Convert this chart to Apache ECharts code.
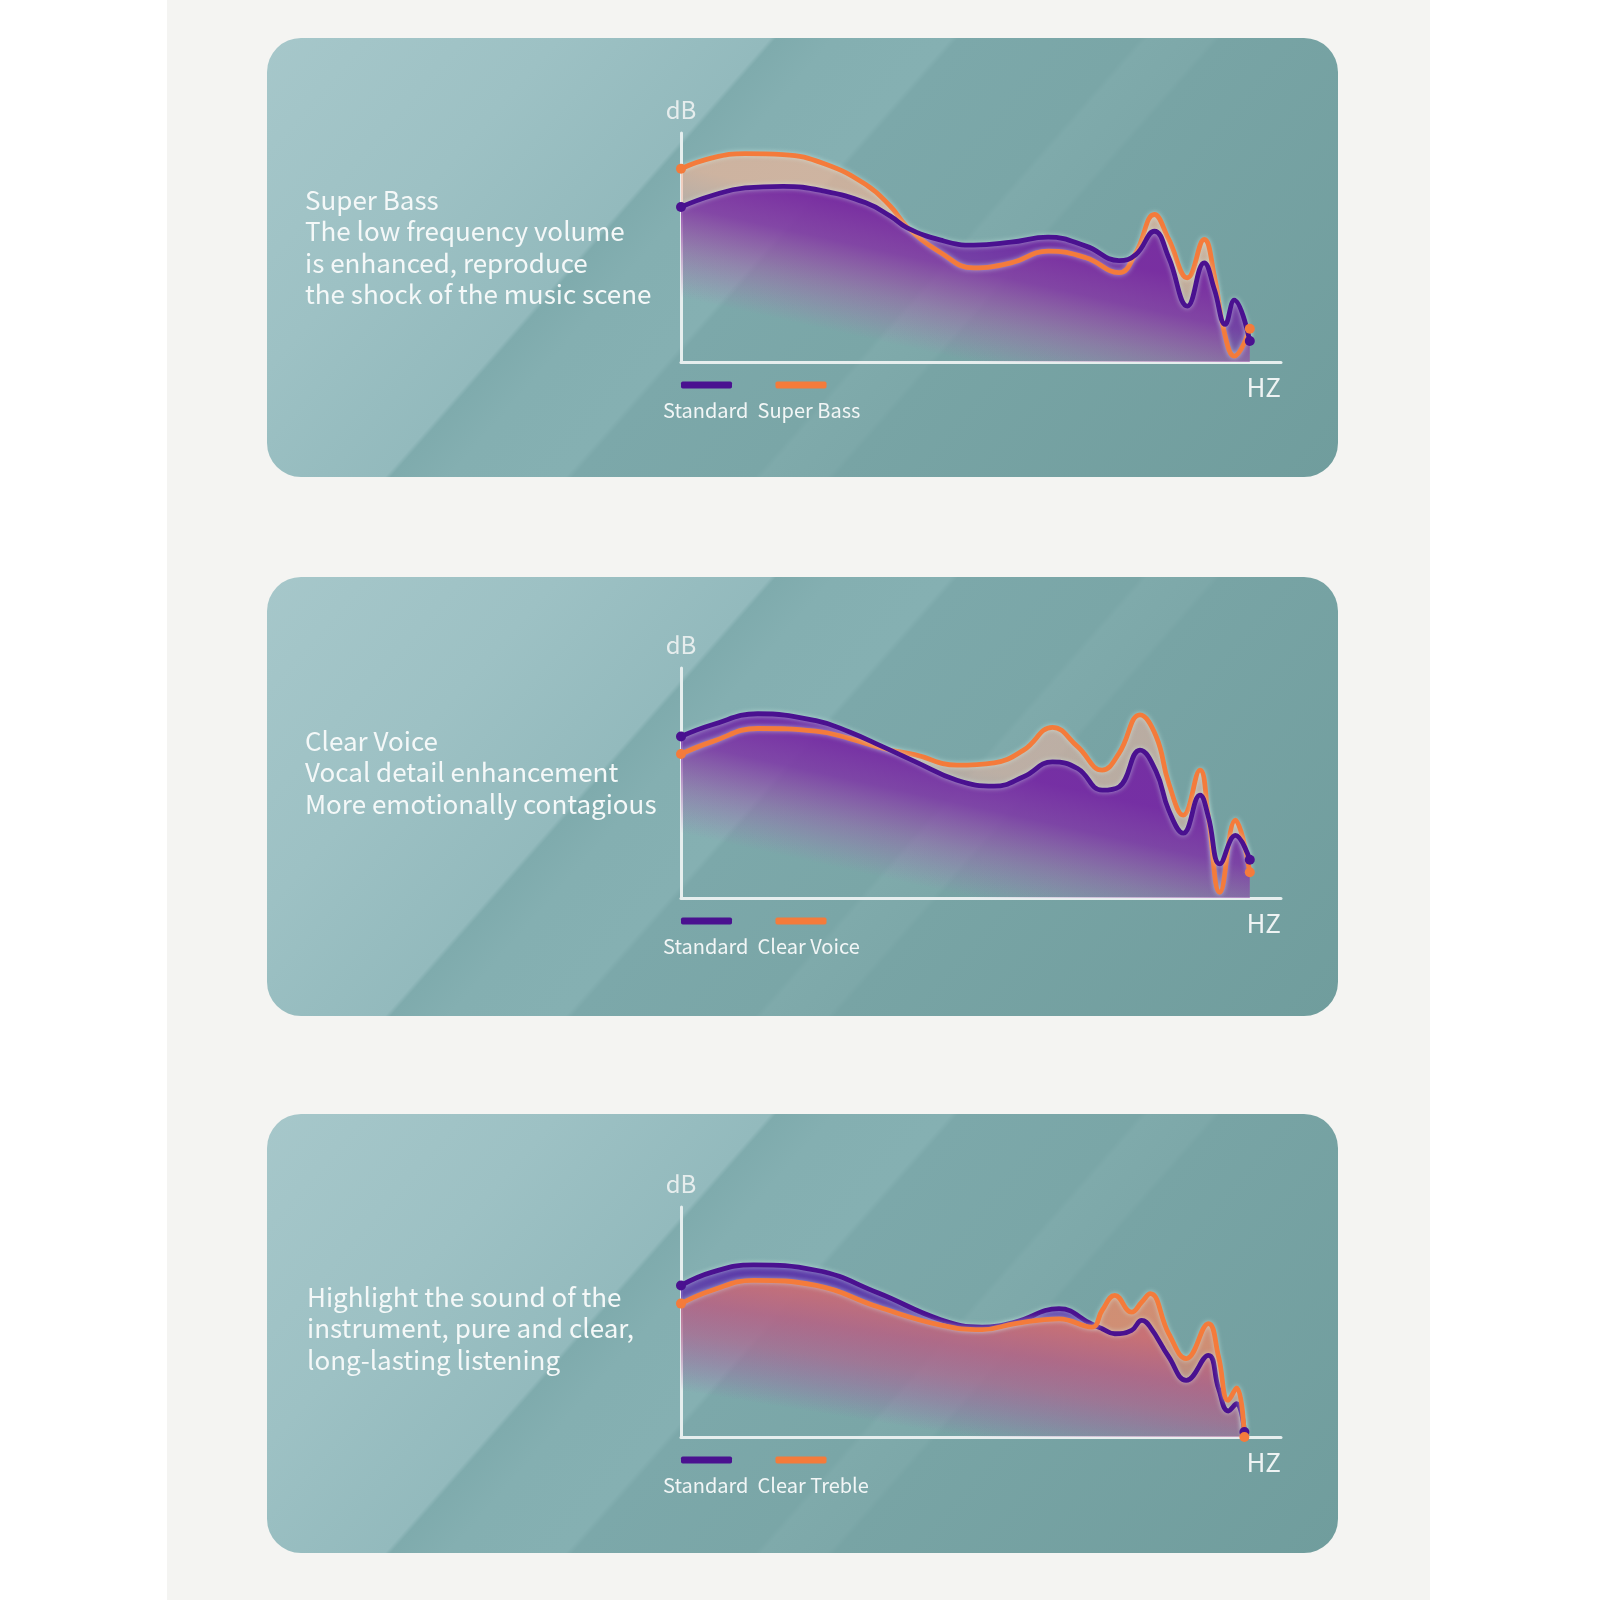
<!DOCTYPE html>
<html>
<head>
<meta charset="utf-8">
<script src="https://cdn.jsdelivr.net/npm/echarts@6/dist/echarts.min.js"></script>
<style>
html, body { margin: 0; padding: 0; background: #fff; }
#main { width: 1600px; height: 1600px; }
</style>
</head>
<body>
<div id="main"></div>
<script>
// frequency positions (% of axis length) and levels (% of axis height)
var xs1 = [0, 5.2, 10.7, 17.0, 23.9, 30.8, 34.9, 37.7, 43.3, 48.8, 55.0, 61.2, 67.5, 73.0, 75.8, 78.9, 81.3, 84.4, 87.2, 88.9, 90.7, 92.2, 94.8];
var standard1 = [67.7, 72.7, 76.0, 76.7, 74.6, 69.5, 63.7, 58.6, 53.2, 51.0, 52.3, 54.5, 50.6, 44.3, 46.9, 57.1, 45.5, 24.4, 43.3, 31.7, 16.4, 27.0, 9.2];
var superBass = [84.4, 89.1, 91.0, 90.6, 86.6, 77.5, 68.0, 59.0, 47.7, 41.1, 43.3, 48.4, 45.5, 39.0, 47.7, 64.4, 53.5, 36.8, 53.5, 37.5, 11.3, 2.6, 14.5];

var xs2 = [0, 5.2, 12.8, 22.5, 28.0, 33.6, 39.1, 46.0, 52.2, 57.1, 61.9, 66.1, 70.2, 73.0, 76.5, 79.2, 81.3, 83.7, 86.5, 87.9, 89.8, 92.4, 94.8];
var standard2 = [70.2, 75.3, 80.1, 77.1, 72.3, 65.8, 59.2, 51.2, 48.6, 52.7, 59.2, 56.3, 46.9, 48.3, 64.3, 54.9, 38.1, 28.2, 44.7, 35.2, 14.8, 27.2, 16.6];
var clearVoice = [62.6, 68.0, 73.7, 72.6, 69.4, 65.1, 62.2, 57.8, 58.8, 64.3, 74.2, 65.8, 55.6, 62.9, 79.6, 70.2, 49.8, 36.0, 55.6, 35.2, 2.5, 33.8, 11.2];

var xs3 = [0, 5.2, 12.1, 22.5, 32.9, 43.3, 50.2, 55.7, 63.0, 68.5, 70.2, 72.3, 75.1, 76.8, 78.2, 81.3, 84.2, 87.9, 89.6, 91.2, 92.6, 93.9];
var standard3 = [65.9, 71.7, 74.8, 72.5, 62.6, 51.0, 47.8, 50.0, 55.8, 49.0, 47.1, 44.9, 46.4, 50.7, 47.8, 34.8, 24.6, 35.5, 21.0, 11.3, 14.5, 2.2];
var clearTreble = [58.0, 63.8, 68.1, 65.9, 56.5, 48.6, 46.7, 49.3, 51.4, 47.8, 55.1, 61.6, 54.3, 58.7, 62.3, 44.9, 34.1, 49.3, 34.8, 15.9, 21.4, 0];

var legendNames = [['Standard', 'Super Bass'], ['Standard', 'Clear Voice'], ['Standard', 'Clear Treble']];
var panelTexts = [
     ['Super Bass', 'The low frequency volume', 'is enhanced, reproduce', 'the shock of the music scene'],
     ['Clear Voice', 'Vocal detail enhancement', 'More emotionally contagious'],
     ['Highlight the sound of the', 'instrument, pure and clear,', 'long-lasting listening']
];

// layout
var FONT = '"Noto Sans CJK SC", "Noto Sans", sans-serif';
var PURPLE = '#4a1190';
var ORANGE = '#f47b3b';
var GRID_LEFT = 681;
var panelTop = [38, 577, 1114];
var gridTop = [133, 668, 1207];
var gridHeight = [229, 230, 230];
var textTop = [184, 725, 1281];
var fadeLevel = [28, 28, 20];   // fill is fully clear below this level at the y axis (%)
var fadeSlope = [0.22, 0.22, 0.16];

function pairs(xs, ys) {
     return xs.map(function (x, i) { return [x, ys[i]]; });
}

function stopsOf(list) {
     return list.map(function (s) { return { offset: s[0], color: s[1] }; });
}

// diagonal fade: clear toward the bottom left of the plot, full toward the top right
function fade(idx, list) {
     var bottom = gridTop[idx] + gridHeight[idx];
     var y0 = bottom - fadeLevel[idx] * gridHeight[idx] / 100;
     var k = 125;
     return {
          type: 'linear', global: true,
          x: GRID_LEFT, y: y0, x2: GRID_LEFT + fadeSlope[idx] * k, y2: y0 - k,
          colorStops: stopsOf(list)
     };
}

var fills = [
     {
          orange: fade(0, [[0, 'rgba(235,165,170,0)'], [0.5, 'rgba(240,170,158,0.32)'], [1, 'rgba(250,182,150,0.62)']]),
          purple: fade(0, [[0, 'rgba(130,70,175,0)'], [0.35, 'rgba(122,52,168,0.35)'], [0.7, 'rgba(115,38,165,0.76)'], [1, 'rgba(110,30,162,0.88)']])
     },
     {
          orange: fade(1, [[0, 'rgba(230,165,175,0)'], [0.5, 'rgba(235,170,162,0.28)'], [1, 'rgba(240,180,160,0.55)']]),
          purple: fade(1, [[0, 'rgba(125,70,178,0)'], [0.35, 'rgba(118,52,170,0.35)'], [0.7, 'rgba(112,38,166,0.76)'], [1, 'rgba(108,30,164,0.88)']])
     },
     {
          orange: fade(2, [[0, 'rgba(220,120,150,0)'], [0.45, 'rgba(232,128,118,0.4)'], [1, 'rgba(242,135,98,0.72)']]),
          purple: fade(2, [[0, 'rgba(105,75,182,0)'], [0.35, 'rgba(98,62,176,0.38)'], [0.7, 'rgba(92,52,170,0.78)'], [1, 'rgba(88,46,168,0.9)']])
     }
];

function curve(name, idx, xs, ys, color, fill) {
     var last = xs.length - 1;
     return {
          type: 'line',
          name: name,
          xAxisIndex: idx,
          yAxisIndex: idx,
          data: pairs(xs, ys),
          smooth: 0.45,
          symbol: 'circle',
          showSymbol: true,
          symbolSize: function (v, p) { return (p.dataIndex === 0 || p.dataIndex === last) ? 10 : 0; },
          itemStyle: { color: color },
          lineStyle: { color: color, width: 4.8, shadowColor: 'rgba(215,250,240,0.55)', shadowBlur: 5 },
          areaStyle: { color: fill, opacity: 1 },
          emphasis: { disabled: true },
          silent: true
     };
}

var grids = [], xAxes = [], yAxes = [], legends = [];
for (var i = 0; i < 3; i++) {
     grids.push({ left: GRID_LEFT, top: gridTop[i], width: 600, height: gridHeight[i] });
     xAxes.push({
          gridIndex: i, type: 'value', min: 0, max: 100,
          axisLine: { show: true, lineStyle: { color: '#e6eeee', width: 3 } },
          axisTick: { show: false }, axisLabel: { show: false }, splitLine: { show: false },
          name: 'HZ', nameLocation: 'end', nameGap: 0,
          nameTextStyle: { color: '#eef3f3', fontSize: 26, fontFamily: FONT, align: 'right', verticalAlign: 'top', padding: [12, 0, 0, 0] }
     });
     yAxes.push({
          gridIndex: i, type: 'value', min: 0, max: 100,
          axisLine: { show: true, lineStyle: { color: '#e6eeee', width: 3 } },
          axisTick: { show: false }, axisLabel: { show: false }, splitLine: { show: false },
          name: 'dB', nameLocation: 'end', nameGap: 11,
          nameTextStyle: { color: '#e6eded', fontSize: 24, fontFamily: FONT }
     });
     // label sits on a second line so that it falls under its swatch
     legends.push({
          left: 663, top: gridTop[i] + gridHeight[i] - 27, padding: 0,
          itemWidth: 51, itemHeight: 7, itemGap: 9, icon: 'roundRect',
          selectedMode: false, data: legendNames[i],
          formatter: '\n{name}',
          textStyle: { color: '#f2f6f6', fontSize: 20, lineHeight: 50, fontFamily: FONT, padding: [0, 0, 0, -74] }
     });
}

var panelFill = {
     type: 'linear', x: 0, y: 0, x2: 0.767, y2: 1.644,
     colorStops: stopsOf([
          [0, 'rgb(166,199,202)'], [0.2, 'rgb(157,193,196)'], [0.346, 'rgb(147,186,189)'],
          [0.35, 'rgb(127,171,173)'], [0.39, 'rgb(132,175,177)'], [0.47, 'rgb(133,176,178)'],
          [0.475, 'rgb(124,168,170)'], [0.6, 'rgb(122,166,167)'], [0.605, 'rgb(127,170,171)'],
          [0.65, 'rgb(125,168,169)'], [0.655, 'rgb(120,164,165)'], [1, 'rgb(112,157,157)']
     ])
};

var graphics = [
     { type: 'rect', z: -100, shape: { x: 167, y: 0, width: 1263, height: 1600 }, style: { fill: '#f4f4f2' }, silent: true }
];
for (var k = 0; k < 3; k++) {
     graphics.push({ type: 'rect', z: -90, shape: { x: 267, y: panelTop[k], width: 1071, height: 439, r: 34 }, style: { fill: panelFill }, silent: true });
     graphics.push({
          type: 'text', z: 10, x: k === 2 ? 307 : 305, y: textTop[k], silent: true,
          style: { text: panelTexts[k].join('\n'), fill: '#f4f8f8', font: '26px ' + FONT, lineHeight: 31.5 }
     });
}

var option = {
     animation: false,
     backgroundColor: '#ffffff',
     graphic: { elements: graphics },
     grid: grids,
     xAxis: xAxes,
     yAxis: yAxes,
     legend: legends,
     series: [
          curve('Super Bass', 0, xs1, superBass, ORANGE, fills[0].orange),
          curve('Standard', 0, xs1, standard1, PURPLE, fills[0].purple),
          curve('Clear Voice', 1, xs2, clearVoice, ORANGE, fills[1].orange),
          curve('Standard', 1, xs2, standard2, PURPLE, fills[1].purple),
          curve('Standard', 2, xs3, standard3, PURPLE, fills[2].purple),
          curve('Clear Treble', 2, xs3, clearTreble, ORANGE, fills[2].orange)
     ]
};

var chart = echarts.init(document.getElementById('main'));
chart.setOption(option);
</script>
</body>
</html>
